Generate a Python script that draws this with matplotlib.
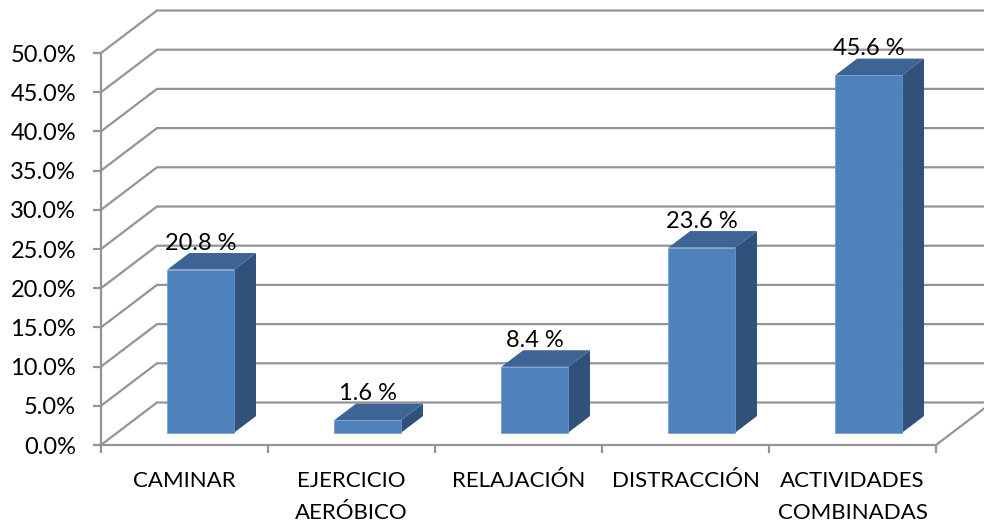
import numpy as np
import matplotlib
matplotlib.use('Agg')
import matplotlib.pyplot as plt
from matplotlib.patches import Polygon

categories = ['CAMINAR', 'EJERCICIO\nAERÓBICO', 'RELAJACIÓN', 'DISTRACCIÓN', 'ACTIVIDADES\nCOMBINADAS']
values = [20.8, 1.6, 8.4, 23.6, 45.6]
data_labels = ['20.8 %', '1.6 %', '8.4 %', '23.6 %', '45.6 %']
y_ticks = [0, 5, 10, 15, 20, 25, 30, 35, 40, 45, 50]

plt.rcParams['font.family'] = ['Lato', 'DejaVu Sans']

W, H = 984, 525
fig = plt.figure(figsize=(W / 100, H / 100), dpi=100)
ax = fig.add_axes([101 / W, 1 - 445 / H, 835 / W, 392 / H])
ax.set_xlim(0, 5)
ax.set_ylim(0, 50)
ax.patch.set_visible(False)

# oblique depth of the fake 3d box, in data units
depth_x = 56 / 167
depth_y = 42.5 / 7.84
grid_c = '#949494'


def project(x, y, d):
    return (x + d * depth_x, y + d * depth_y)


# walls and gridlines
for t in y_ticks:
    pts = [project(0, t, 0), project(0, t, 1), project(5, t, 1)]
    ax.plot(*zip(*pts), color=grid_c, lw=1.6, clip_on=False, zorder=1, solid_joinstyle='miter')
ax.plot(*zip(project(5, 0, 0), project(5, 0, 1)), color=grid_c, lw=1.6, clip_on=False, zorder=1)

# bars
bar_w = 0.4
d0, d1 = 0.29, 0.68
for i, v in enumerate(values):
    x0 = i + 0.3
    x1 = x0 + bar_w
    side = [project(x1, 0, d0), project(x1, 0, d1), project(x1, v, d1), project(x1, v, d0)]
    top = [project(x0, v, d0), project(x1, v, d0), project(x1, v, d1), project(x0, v, d1)]
    front = [project(x0, 0, d0), project(x1, 0, d0), project(x1, v, d0), project(x0, v, d0)]
    ax.add_patch(Polygon(side, closed=True, fc='#305179', ec='none', zorder=3, clip_on=False))
    ax.add_patch(Polygon(top, closed=True, fc='#3c6494', ec='none', zorder=3, clip_on=False))
    ax.add_patch(Polygon(front, closed=True, fc='#4f81bd', ec='#6f9ad0', lw=0.5, zorder=4, clip_on=False))
    lx, ly = project(i + 0.5, v, d0)
    ax.annotate(data_labels[i], (lx, ly), xytext=(0, 19), textcoords='offset points',
                ha='center', va='center', fontsize=17, color='black', zorder=5, annotation_clip=False)

# axes
for s in ['top', 'right']:
    ax.spines[s].set_visible(False)
for s in ['left', 'bottom']:
    ax.spines[s].set_color(grid_c)
    ax.spines[s].set_linewidth(1.6)
ax.set_yticks(y_ticks)
ax.set_yticklabels(['%.1f%%' % t for t in y_ticks], fontsize=17, color='black')
ax.tick_params(axis='y', length=6, width=1.6, color=grid_c, pad=12)
ax.set_xticks(np.arange(6))
ax.set_xticklabels([])
ax.tick_params(axis='x', length=6, width=1.6, color=grid_c)
ax.set_xticks(np.arange(5) + 0.5, minor=True)
ax.set_xticklabels(categories, minor=True, fontsize=16, linespacing=1.72, color='black')
ax.tick_params(axis='x', which='minor', length=0, pad=19)

fig.savefig('out.png', dpi=100)
